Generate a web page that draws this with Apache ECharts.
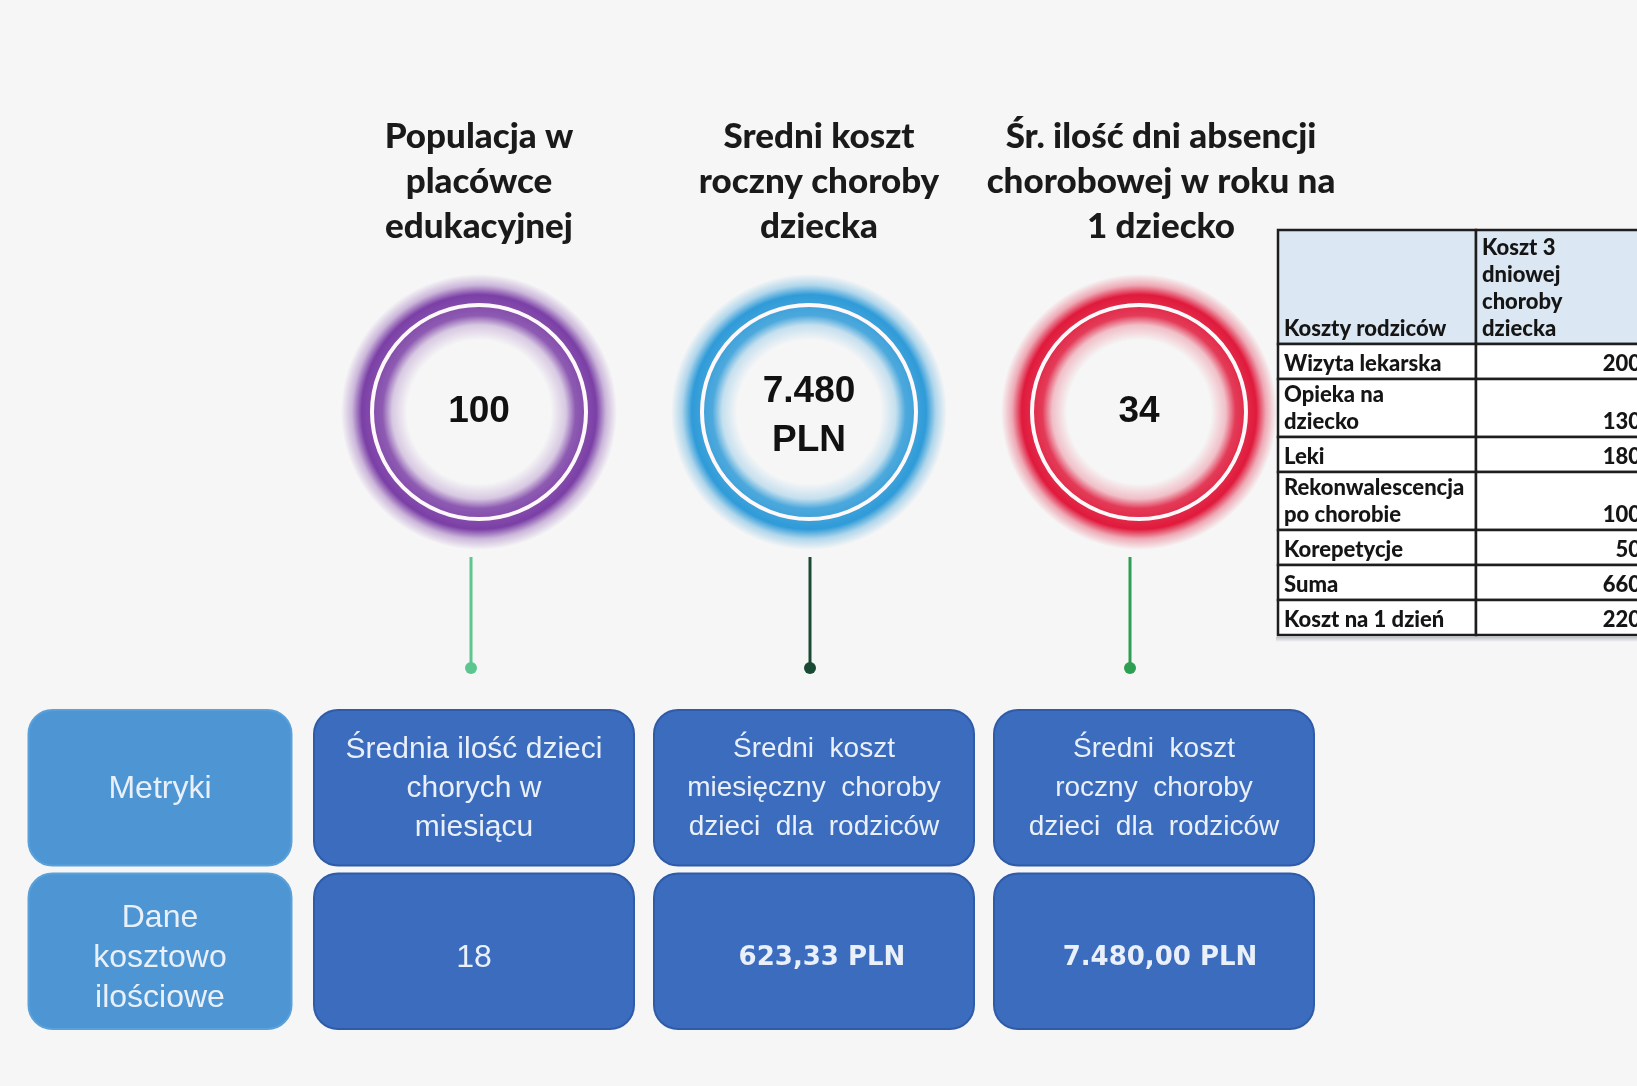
<!DOCTYPE html>
<html><head><meta charset="utf-8">
<script src="https://cdn.jsdelivr.net/npm/echarts@6/dist/echarts.min.js"></script>
<style>html,body{margin:0;padding:0;background:#f6f6f6}#c{width:1637px;height:1086px}</style>
</head><body><div id="c"></div>
<script>
// ---------------- DATA ----------------
const circleTitles = ['Populacja w\nplacówce\nedukacyjnej', 'Sredni koszt\nroczny choroby\ndziecka', 'Śr. ilość dni absencji\nchorobowej w roku na\n1 dziecko'];
const circleValues = ['100', '7.480\nPLN', '34'];
const rowHeaders = ['Metryki', 'Dane\nkosztowo\nilościowe'];
const metricLabels = ['Średnia ilość dzieci\nchorych w\nmiesiącu', 'Średni  koszt\nmiesięczny  choroby\ndzieci  dla  rodziców', 'Średni  koszt\nroczny  choroby\ndzieci  dla  rodziców'];
const metricValues = ['18', '623,33 PLN', '7.480,00 PLN'];
const tableHeader = ['Koszty rodziców', 'Koszt 3\ndniowej\nchoroby\ndziecka'];
const costItems = ['Wizyta lekarska', 'Opieka na\ndziecko', 'Leki', 'Rekonwalescencja\npo chorobie', 'Korepetycje', 'Suma', 'Koszt na 1 dzień'];
const costValues = [200, 130, 180, 100, 50, 660, 220];

// ---------------- STYLE / LAYOUT ----------------
const ringColors = ['#7b3fa6', '#2f9bd8', '#e01a3c'];
const stemColors = ['#5cc690', '#1b4a34', '#2e9e52'];
const LAYOUT = {
  titleDx: [0, 10, 22], titleDy: -230, titleLH: 45,
  glowR: 138, ringR: 107,
  stemDx: [-8, 1, -9], stemTop: 145, stemBottom: 256, dotR: 6,
  valueDy: [0, 4, 0],
  headerShift: 26, headerW: 263, boxW: 320, boxGap: 8, boxR: 24,
  valueDx: [0, 0, 8, 6], headerDy: [1, 7],
  table: { col1W: 198, headerH: 114, rowH: 35, extraLineH: 23, lineH: 27, valueRight: 4 }
};

function rgba(hex, a) { const n = parseInt(hex.slice(1), 16); return 'rgba(' + (n >> 16) + ',' + ((n >> 8) & 255) + ',' + (n & 255) + ',' + a + ')'; }

const chart = echarts.init(document.getElementById('c'));

function renderCircle(params, api) {
  const i = params.dataIndex;
  const p = api.coord([api.value(0), api.value(1)]);
  const c = ringColors[i];
  const L = LAYOUT;
  return {
    type: 'group', children: [
      { type: 'text', x: p[0] + L.titleDx[i], y: p[1] + L.titleDy,
        style: { text: circleTitles[i], fill: '#1a1a1a', fontSize: 35, fontWeight: 900, fontFamily: 'Lato', align: 'center', verticalAlign: 'middle', lineHeight: L.titleLH } },
      { type: 'circle', shape: { cx: p[0], cy: p[1], r: L.glowR },
        style: { fill: new echarts.graphic.RadialGradient(0.5, 0.5, 0.5, [
          { offset: 0, color: rgba(c, 0) }, { offset: 0.52, color: rgba(c, 0) },
          { offset: 0.63, color: rgba(c, 0.25) }, { offset: 0.7, color: rgba(c, 0.85) },
          { offset: 0.85, color: rgba(c, 1) }, { offset: 0.92, color: rgba(c, 0.35) },
          { offset: 1, color: rgba(c, 0) }]) } },
      { type: 'circle', shape: { cx: p[0], cy: p[1], r: L.ringR },
        style: { fill: 'none', stroke: '#fff8fb', lineWidth: 4 } },
      { type: 'text', x: p[0], y: p[1] + L.valueDy[i],
        style: { text: circleValues[i], fill: '#111', fontSize: 37, fontWeight: 'bold', fontFamily: 'Liberation Sans', align: 'center', verticalAlign: 'middle', lineHeight: 49 } },
      { type: 'line', shape: { x1: p[0] + L.stemDx[i], y1: p[1] + L.stemTop, x2: p[0] + L.stemDx[i], y2: p[1] + L.stemBottom },
        style: { stroke: stemColors[i], lineWidth: 3 } },
      { type: 'circle', shape: { cx: p[0] + L.stemDx[i], cy: p[1] + L.stemBottom, r: L.dotR },
        style: { fill: stemColors[i] } }
    ]
  };
}

const boxData = [];
for (let r = 0; r < 2; r++) for (let col = 0; col < 4; col++) boxData.push([col, r]);
function boxText(col, row) {
  if (col === 0) return rowHeaders[row];
  return row === 0 ? metricLabels[col - 1] : metricValues[col - 1];
}
function renderBox(params, api) {
  const col = api.value(0), row = api.value(1);
  const p = api.coord([col, row]);
  const bandH = api.size([0, 1])[1];
  const L = LAYOUT;
  const w = col === 0 ? L.headerW : L.boxW;
  const cx = p[0] + (col === 0 ? L.headerShift : 0);
  const h = bandH - L.boxGap;
  const bold = row === 1 && col >= 2;
  const isValue = row === 1 && col > 0;
  let fs = 28, lh = 39;
  if (col === 0) { fs = 32; lh = 40; }
  else if (bold) fs = 26;
  else if (isValue) fs = 32;
  else if (col === 1) fs = 30;
  const dy = col === 0 ? L.headerDy[row] : (isValue ? 7 : 1);
  return {
    type: 'group', children: [
      { type: 'rect', shape: { x: cx - w / 2, y: p[1] - h / 2, width: w, height: h, r: L.boxR },
        style: { fill: col === 0 ? '#4d96d3' : '#3b6cbe', stroke: col === 0 ? '#5aa0da' : '#2f5ba8', lineWidth: 2 } },
      { type: 'text', x: cx + (isValue ? L.valueDx[col] : 0), y: p[1] + dy,
        style: { text: boxText(col, row), fill: '#eaf0f9', align: 'center', verticalAlign: 'middle',
          fontSize: fs, fontWeight: bold ? 'bold' : 'normal',
          fontFamily: bold ? 'DejaVu Sans' : 'Liberation Sans', lineHeight: lh } }
    ]
  };
}

const tableRows = [tableHeader].concat(costItems.map((l, k) => [l, String(costValues[k])]));
function rowHeight(k) {
  const T = LAYOUT.table;
  if (k === 0) return T.headerH;
  const lines = tableRows[k][0].split('\n').length;
  return T.rowH + (lines - 1) * T.extraLineH;
}
function renderTable(params, api) {
  const k = params.dataIndex;
  const T = LAYOUT.table;
  const o = api.coord([0, 0]);
  const right = api.coord([1, 0])[0];
  let y0 = o[1];
  for (let j = 0; j < k; j++) y0 += rowHeight(j);
  const h = rowHeight(k);
  const xd = o[0] + T.col1W;
  const isHead = k === 0;
  const fill = isHead ? '#dbe7f3' : '#ffffff';
  const txt = { fill: '#151515', fontSize: 22, fontWeight: 900, fontFamily: 'Lato', verticalAlign: 'bottom', lineHeight: T.lineH };
  const children = [
    { type: 'rect', shape: { x: o[0], y: y0, width: T.col1W, height: h }, style: { fill: fill, stroke: '#1e1e1e', lineWidth: 2.5 } },
    { type: 'rect', shape: { x: xd, y: y0, width: right - xd + 20, height: h }, style: { fill: fill, stroke: '#1e1e1e', lineWidth: 2.5 } },
    { type: 'text', x: o[0] + 6, y: y0 + h - 2, style: Object.assign({ text: tableRows[k][0], align: 'left' }, txt) },
    { type: 'text', x: isHead ? xd + 6 : right + T.valueRight, y: y0 + h - 2, style: Object.assign({ text: tableRows[k][1], align: isHead ? 'left' : 'right' }, txt) }
  ];
  if (k === tableRows.length - 1) {
    children.unshift({ type: 'rect', shape: { x: o[0] - 2, y: y0 + h + 2, width: right - o[0] + 20, height: 5 },
      style: { fill: new echarts.graphic.LinearGradient(0, 0, 0, 1, [{ offset: 0, color: 'rgba(150,160,175,0.6)' }, { offset: 1, color: 'rgba(150,160,175,0)' }]) } });
  }
  return { type: 'group', children: children };
}

const option = {
  backgroundColor: '#f6f6f6',
  animation: false,
  grid: [
    { left: 479, right: 498, top: 303, height: 218 },
    { left: 134, right: 483, top: 706, height: 327 },
    { left: 1278, top: 230, width: 359, height: 405 }
  ],
  xAxis: [
    { gridIndex: 0, type: 'category', data: circleTitles, boundaryGap: false, show: false },
    { gridIndex: 1, type: 'category', data: ['header'].concat(metricLabels), boundaryGap: false, show: false },
    { gridIndex: 2, type: 'value', min: 0, max: 1, show: false }
  ],
  yAxis: [
    { gridIndex: 0, type: 'category', data: ['ring'], show: false },
    { gridIndex: 1, type: 'category', data: rowHeaders, inverse: true, show: false },
    { gridIndex: 2, type: 'value', min: 0, max: 1, inverse: true, show: false }
  ],
  series: [
    { type: 'custom', xAxisIndex: 2, yAxisIndex: 2, clip: false, silent: true, data: tableRows.map((r, k) => [0, k]), renderItem: renderTable },
    { type: 'custom', xAxisIndex: 0, yAxisIndex: 0, clip: false, silent: true, data: circleValues.map((v, i) => [i, 0]), renderItem: renderCircle },
    { type: 'custom', xAxisIndex: 1, yAxisIndex: 1, clip: false, silent: true, data: boxData, renderItem: renderBox }
  ]
};
chart.setOption(option);
</script>
</body></html>
